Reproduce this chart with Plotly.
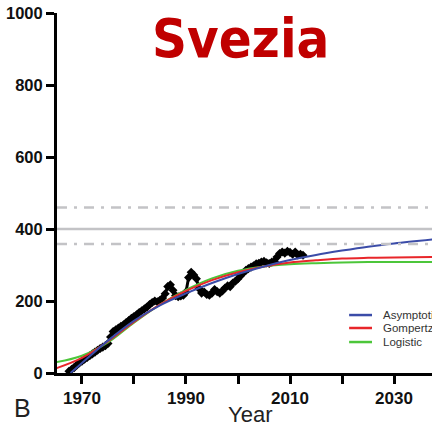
import plotly.graph_objects as go

# osservazioni (anno, valore)
anni = [1967.5, 1968, 1968.5, 1969, 1969.5, 1970, 1970.5, 1971, 1971.5, 1972, 1972.5, 1973, 1973.5,
        1974, 1974.5, 1975, 1975.5, 1976, 1976.5, 1977, 1977.5, 1978, 1978.5, 1979, 1979.5, 1980,
        1980.5, 1981, 1981.5, 1982, 1982.5, 1983, 1983.5, 1984, 1984.5, 1985, 1985.5, 1986, 1986.5,
        1987, 1987.5, 1988, 1988.5, 1989, 1989.5, 1990, 1990.5, 1991, 1991.5, 1992, 1992.5, 1993,
        1993.5, 1994, 1994.5, 1995, 1995.5, 1996, 1996.5, 1997, 1997.5, 1998, 1998.5, 1999, 1999.5,
        2000, 2000.5, 2001, 2001.5, 2002, 2002.5, 2003, 2003.5, 2004, 2004.5, 2005, 2005.5, 2006,
        2006.5, 2007, 2007.5, 2008, 2008.5, 2009, 2009.5, 2010, 2010.5, 2011, 2011.5, 2012, 2012.5]
valori = [5, 10, 15, 22, 28, 33, 38, 43, 48, 53, 58, 63, 68,
          72, 76, 82, 100, 115, 120, 125, 130, 134, 140, 146, 152, 157,
          162, 168, 173, 178, 183, 190, 196, 200, 198, 202, 208, 220, 240,
          245, 230, 215, 212, 214, 216, 225, 265, 280, 272, 262, 235, 222,
          225, 218, 216, 222, 232, 226, 222, 228, 236, 242, 240, 250, 255,
          262, 270, 278, 285, 290, 294, 298, 303, 305, 308, 310, 306, 304,
          308, 310, 322, 332, 336, 333, 338, 335, 330, 336, 328, 330, 327]

# curve dei modelli
anni_curve = [1965, 1970, 1975, 1980, 1985, 1990, 1995, 2000, 2005, 2010, 2015, 2020, 2025, 2030, 2038]
anni_asint = [1967.8, 1970, 1975, 1980, 1985, 1990, 1995, 2000, 2005, 2010, 2015, 2020, 2025, 2030, 2038]
asintotico = [0, 28, 90, 145, 188, 221, 250, 275, 296, 314, 328, 340, 351, 360, 372]
gompertz = [13, 42, 88, 142, 190, 228, 258, 280, 296, 307, 313, 318, 320, 321, 322]
logistico = [30, 48, 85, 140, 190, 231, 263, 284, 296, 302, 305, 307, 308, 308, 308]

riferimenti_tratteggiati = [460, 358]
riferimento_pieno = 400

colori = {"Asymptotic": "#3b4ca8", "Gompertz": "#e8262a", "Logistic": "#4cc63a"}

fig = go.Figure()

for y in riferimenti_tratteggiati:
    fig.add_shape(type="line", xref="paper", yref="y", x0=0, x1=1, y0=y, y1=y,
                  line=dict(color="#c3c3c6", width=2.5, dash="10px,7px,3px,7px"))
fig.add_shape(type="line", xref="paper", yref="y", x0=0, x1=1, y0=riferimento_pieno, y1=riferimento_pieno,
              line=dict(color="#c3c3c6", width=2.5))

fig.add_trace(go.Scatter(x=anni, y=valori, mode="lines+markers",
                         line=dict(color="black", width=3),
                         marker=dict(symbol="diamond", size=7, color="black"),
                         showlegend=False))

fig.add_trace(go.Scatter(x=anni_curve, y=logistico, mode="lines", name="Logistic",
                         line=dict(color=colori["Logistic"], width=2, shape="spline"), showlegend=False))
fig.add_trace(go.Scatter(x=anni_curve, y=gompertz, mode="lines", name="Gompertz",
                         line=dict(color=colori["Gompertz"], width=2, shape="spline"), showlegend=False))
fig.add_trace(go.Scatter(x=anni_asint, y=asintotico, mode="lines", name="Asymptotic",
                         line=dict(color=colori["Asymptotic"], width=2, shape="spline"), showlegend=False))

# legenda disegnata a mano
leg_y = [0.161, 0.125, 0.086]
for nome, yy in zip(["Asymptotic", "Gompertz", "Logistic"], leg_y):
    fig.add_shape(type="line", xref="paper", yref="paper", x0=0.779, x1=0.84, y0=yy, y1=yy,
                  line=dict(color=colori[nome], width=2.5))
    fig.add_annotation(x=0.864, y=yy, xref="paper", yref="paper", text=nome, showarrow=False,
                       xanchor="left", yanchor="middle",
                       font=dict(family="Liberation Sans", size=11.5, color="#333333"))

fig.add_annotation(x=0.488, y=0.93, xref="paper", yref="paper", text="<b>Svezia</b>", showarrow=False,
                   xanchor="center", yanchor="middle",
                   font=dict(family="DejaVu Sans Condensed, Liberation Sans", size=54, color="#c00000"))
fig.add_annotation(x=-0.093, y=-0.097, xref="paper", yref="paper", text="B", showarrow=False,
                   xanchor="center", yanchor="middle",
                   font=dict(family="Liberation Sans", size=25, color="#222222"))
fig.add_annotation(x=0.515, y=-0.114, xref="paper", yref="paper", text="Year", showarrow=False,
                   xanchor="center", yanchor="middle",
                   font=dict(family="Liberation Sans", size=22, color="#222222"))

tick_x = [1970, 1980, 1990, 2000, 2010, 2020, 2030]
etichette_x = ["1970", "", "1990", "", "2010", "", "2030"]

fig.update_layout(
    width=432, height=429,
    margin=dict(l=57, r=0, t=13, b=56),
    plot_bgcolor="white", paper_bgcolor="white",
    font=dict(family="Liberation Sans", color="#111111"),
    xaxis=dict(range=[1965.2, 2037.3], tickvals=tick_x, ticktext=etichette_x,
               showgrid=False, zeroline=False, showline=True, linecolor="black", linewidth=3,
               ticks="outside", ticklen=8, tickwidth=2.5, tickcolor="black",
               tickfont=dict(size=17, weight="bold", color="#111111")),
    yaxis=dict(range=[0, 1000], tickvals=[0, 200, 400, 600, 800, 1000],
               showgrid=False, zeroline=False, showline=True, linecolor="black", linewidth=3,
               ticks="outside", ticklen=8, tickwidth=2.5, tickcolor="black",
               tickfont=dict(size=16.5, weight="bold", color="#111111")),
)

# niente margine della pagina, così il grafico parte dall'angolo
fig.write_html("out.html", config={"displayModeBar": False},
               post_script="document.body.style.margin='0';")
